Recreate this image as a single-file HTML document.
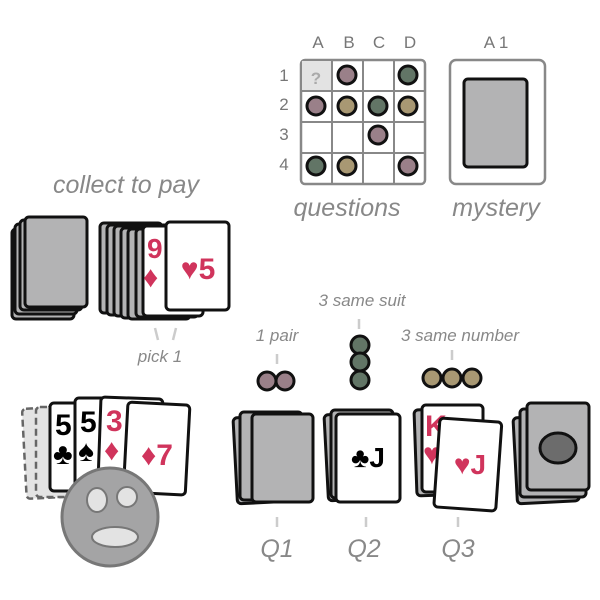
<!DOCTYPE html>
<html><head><style>body{margin:0;background:#fff}svg{display:block}</style></head><body>
<svg width="600" height="600" viewBox="0 0 600 600" xmlns="http://www.w3.org/2000/svg" font-family="Liberation Sans, sans-serif">
<defs>
<g id="back"><rect x="0" y="0" width="62" height="90" rx="4" fill="#b3b3b4" stroke="#111" stroke-width="3"/></g>
</defs>
<g font-size="17" fill="#777" text-anchor="middle">
<text x="318" y="48">A</text><text x="349" y="48">B</text><text x="379" y="48">C</text><text x="410" y="48">D</text>
<text x="284" y="81">1</text><text x="284" y="110">2</text><text x="284" y="140">3</text><text x="284" y="170">4</text>
<text x="496" y="48">A 1</text>
</g>
<rect x="301" y="60" width="124" height="124" rx="4" fill="#fff" stroke="#888" stroke-width="2.5"/>
<rect x="302" y="61" width="30" height="30" fill="#e3e3e3"/>
<text x="316" y="84" font-size="17" font-weight="bold" fill="#aaa" text-anchor="middle">?</text>
<g stroke="#888" stroke-width="2"><line x1="332" y1="60" x2="332" y2="184"/><line x1="363" y1="60" x2="363" y2="184"/><line x1="394" y1="60" x2="394" y2="184"/><line x1="301" y1="91" x2="425" y2="91"/><line x1="301" y1="122" x2="425" y2="122"/><line x1="301" y1="153" x2="425" y2="153"/></g>
<g stroke="#111" stroke-width="3">
<circle cx="347" cy="75" r="9" fill="#9a8089"/><circle cx="408" cy="75" r="9" fill="#627566"/>
<circle cx="316" cy="106" r="9" fill="#9a8089"/><circle cx="347" cy="106" r="9" fill="#a89873"/><circle cx="378" cy="106" r="9" fill="#627566"/><circle cx="408" cy="106" r="9" fill="#a89873"/>
<circle cx="378" cy="135" r="9" fill="#9a8089"/>
<circle cx="316" cy="166" r="9" fill="#627566"/><circle cx="347" cy="166" r="9" fill="#a89873"/><circle cx="408" cy="166" r="9" fill="#9a8089"/>
</g>
<rect x="450" y="60" width="95" height="124" rx="6" fill="#fff" stroke="#888" stroke-width="2.5"/>
<rect x="464" y="79" width="63" height="88" rx="4" fill="#b3b3b4" stroke="#111" stroke-width="3"/>
<g font-size="25" font-style="italic" fill="#888" text-anchor="middle">
<text x="347" y="216">questions</text><text x="496" y="216">mystery</text>
<text x="126" y="193">collect to pay</text>
</g>
<use href="#back" x="12" y="229"/><use href="#back" x="15" y="224"/><use href="#back" x="20" y="220"/><use href="#back" x="25" y="217"/>
<g fill="#b3b3b4" stroke="#111" stroke-width="3">
<rect x="100" y="223" width="62" height="90" rx="4"/><rect x="107" y="225" width="62" height="90" rx="4"/><rect x="114" y="226" width="62" height="90" rx="4"/><rect x="121" y="228" width="62" height="90" rx="4"/><rect x="128" y="229" width="62" height="90" rx="4"/><rect x="136" y="229" width="62" height="88" rx="4"/>
</g>
<rect x="143" y="226" width="60" height="90" rx="4" fill="#fff" stroke="#111" stroke-width="3"/>
<text x="147" y="258" font-size="28" font-weight="bold" fill="#d0345c">9</text>
<text x="143" y="287" font-size="30" fill="#d0345c">♦</text>
<rect x="166" y="222" width="63" height="88" rx="4" fill="#fff" stroke="#111" stroke-width="3"/>
<text x="198" y="279" font-size="30" font-weight="bold" fill="#d0345c" text-anchor="middle">♥5</text>
<g stroke="#ccc" stroke-width="2.5"><line x1="155" y1="328" x2="158" y2="340"/><line x1="176" y1="328" x2="173" y2="340"/></g>
<text x="160" y="362" font-size="17" font-style="italic" fill="#888" text-anchor="middle">pick 1</text>
<g fill="#e3e3e3" stroke="#666" stroke-width="2.5" stroke-dasharray="7 4">
<rect x="22" y="409" width="50" height="90" rx="4" transform="rotate(-3 22 409)"/><rect x="36" y="407" width="50" height="90" rx="4"/>
</g>
<g stroke="#111" stroke-width="3" fill="#fff">
<rect x="50" y="403" width="58" height="88" rx="4"/><rect x="75" y="398" width="58" height="88" rx="4"/><rect x="101" y="397" width="62" height="88" rx="4" transform="rotate(2 101 397)"/>
</g>
<text x="55" y="435" font-size="30" font-weight="bold">5</text><text x="53" y="464" font-size="30">♣</text>
<text x="80" y="432" font-size="30" font-weight="bold">5</text><text x="78" y="461" font-size="30">♠</text>
<text x="106" y="431" font-size="30" font-weight="bold" fill="#d0345c">3</text><text x="104" y="460" font-size="30" fill="#d0345c">♦</text>
<rect x="128" y="402" width="62" height="90" rx="4" fill="#fff" stroke="#111" stroke-width="3" transform="rotate(3 128 402)"/>
<text x="157" y="465" font-size="30" font-weight="bold" fill="#d0345c" text-anchor="middle">♦7</text>
<ellipse cx="110" cy="517" rx="48" ry="49" fill="#a4a4a5" stroke="#777" stroke-width="3"/>
<ellipse cx="97" cy="500" rx="10" ry="12" fill="#e3e3e3" stroke="#777" stroke-width="2"/>
<ellipse cx="127" cy="497" rx="10" ry="10" fill="#e3e3e3" stroke="#777" stroke-width="2"/>
<ellipse cx="115" cy="537" rx="23" ry="10" fill="#e3e3e3" stroke="#777" stroke-width="2"/>
<g font-size="17" font-style="italic" fill="#888" text-anchor="middle">
<text x="277" y="341">1 pair</text><text x="362" y="306">3 same suit</text><text x="460" y="341">3 same number</text>
</g>
<g font-size="25" font-style="italic" fill="#888" text-anchor="middle">
<text x="277" y="557">Q1</text><text x="364" y="557">Q2</text><text x="458" y="557">Q3</text>
</g>
<g stroke="#ccc" stroke-width="2.5">
<line x1="277" y1="354" x2="277" y2="364"/><line x1="359" y1="319" x2="359" y2="329"/><line x1="452" y1="350" x2="452" y2="360"/>
<line x1="277" y1="517" x2="277" y2="527"/><line x1="366" y1="517" x2="366" y2="527"/><line x1="458" y1="517" x2="458" y2="527"/>
</g>
<g stroke="#111" stroke-width="3">
<circle cx="267" cy="381" r="9" fill="#9a8089"/><circle cx="285" cy="381" r="9" fill="#9a8089"/>
<circle cx="360" cy="345" r="9" fill="#627566"/><circle cx="360" cy="362" r="9" fill="#627566"/><circle cx="360" cy="380" r="9" fill="#627566"/>
<circle cx="432" cy="378" r="9" fill="#a89873"/><circle cx="452" cy="378" r="9" fill="#a89873"/><circle cx="472" cy="378" r="9" fill="#a89873"/>
</g>
<g fill="#b3b3b4" stroke="#111" stroke-width="3">
<rect x="233" y="418" width="60" height="86" rx="4" transform="rotate(-3 233 418)"/><rect x="240" y="412" width="62" height="88" rx="4"/><rect x="252" y="414" width="61" height="88" rx="4"/>
<rect x="324" y="415" width="60" height="86" rx="4" transform="rotate(-3 324 415)"/><rect x="331" y="410" width="62" height="88" rx="4"/>
<rect x="414" y="410" width="58" height="86" rx="4" transform="rotate(-2 414 410)"/>
<rect x="513" y="418" width="62" height="86" rx="4" transform="rotate(-3 513 418)"/><rect x="520" y="409" width="66" height="88" rx="4"/><rect x="527" y="403" width="62" height="87" rx="4"/>
</g>
<rect x="336" y="414" width="64" height="88" rx="4" fill="#fff" stroke="#111" stroke-width="3"/>
<text x="368" y="467" font-size="28" font-weight="bold" text-anchor="middle">♣J</text>
<rect x="422" y="405" width="61" height="87" rx="4" fill="#fff" stroke="#111" stroke-width="3"/>
<text x="425" y="436" font-size="30" font-weight="bold" fill="#d0345c">K</text><text x="423" y="464" font-size="30" fill="#d0345c">♥</text>
<rect x="440" y="418" width="62" height="89" rx="4" fill="#fff" stroke="#111" stroke-width="3" transform="rotate(4 440 418)"/>
<text x="470" y="474" font-size="28" font-weight="bold" fill="#d0345c" text-anchor="middle">♥J</text>
<ellipse cx="558" cy="448" rx="18" ry="15" fill="#6c6c6c" stroke="#111" stroke-width="3"/>
</svg>
</body></html>
